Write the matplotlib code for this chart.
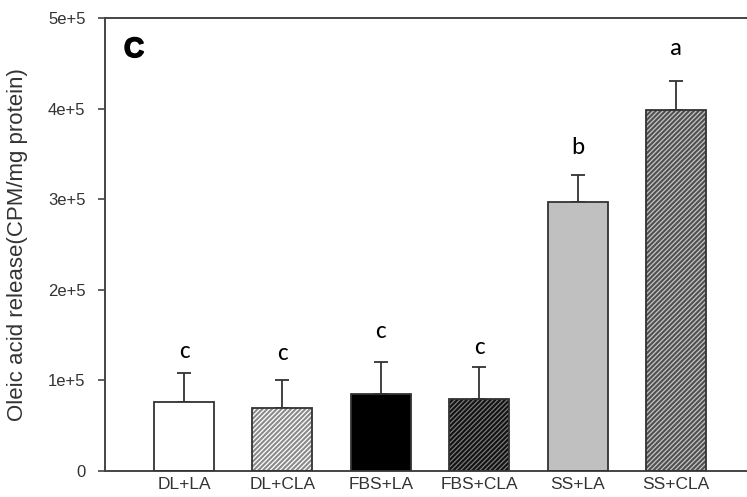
import numpy as np
import matplotlib.pyplot as plt
import matplotlib.patheffects as pe

# Data
groups = ["DL+LA", "DL+CLA", "FBS+LA", "FBS+CLA", "SS+LA", "SS+CLA"]
means = [76000, 69000, 85000, 79000, 297000, 398000]
errs = [32000, 31000, 35000, 36000, 30000, 32000]
letters = ["c", "c", "c", "c", "b", "a"]
letter_y = [132000, 130000, 154000, 136000, 357000, 466000]

faces = ["white", "white", "black", "#7a7a7a", "#c0c0c0", "#c4c4c4"]
hatches = [None, "///////", None, "///////", None, "///////"]
hatch_cols = ["#333333", "#8a8a8a", "#333333", "#111111", "#333333", "#505050"]

plt.rcParams['font.family'] = ['Liberation Sans', 'DejaVu Sans']
plt.rcParams['hatch.linewidth'] = 1.5

fig = plt.figure(figsize=(7.47, 4.97), dpi=100)
ax = fig.add_axes([0.1406, 0.0523, 0.8594, 0.9115])

x = np.arange(len(groups))
for i in range(len(groups)):
    ax.bar(x[i], means[i], width=0.61, color=faces[i], edgecolor=hatch_cols[i],
           hatch=hatches[i], linewidth=0, zorder=2)
    ax.bar(x[i], means[i], width=0.61, color="none", edgecolor="#333333",
           linewidth=1.3, zorder=3)
    ax.errorbar(x[i], means[i], yerr=[[0], [errs[i]]], fmt="none",
                ecolor="#333333", elinewidth=1.3, capsize=5, capthick=1.3, zorder=1)
    ax.text(x[i], letter_y[i], letters[i], ha="center", va="center",
            fontsize=18, family=["Carlito", "Liberation Sans", "DejaVu Sans"])

ax.set_xlim(-0.803, 5.72)
ax.set_ylim(0, 500000)
ax.set_yticks([0, 100000, 200000, 300000, 400000, 500000])
ax.set_yticklabels(["0", "1e+5", "2e+5", "3e+5", "4e+5", "5e+5"], color="#333333", fontsize=12)
ax.set_xticks(x)
ax.set_xticklabels(groups, color="#333333", fontsize=12.5)
ax.tick_params(axis="x", length=0, pad=4)
ax.tick_params(axis="y", length=5, width=1.2, color="#444444", pad=9)

ax.spines["right"].set_visible(False)
for s in ["left", "top", "bottom"]:
    ax.spines[s].set_color("#444444")
    ax.spines[s].set_linewidth(1.4)

ax.set_ylabel("Oleic acid release(CPM/mg protein)", fontsize=16, color="#333333")
ax.yaxis.set_label_coords(-0.12, 0.5)
# panel letter, thickened with a stroke so it reads bold
fig.text(134 / 747, 1 - 50 / 497, "C", fontsize=20, fontweight="bold",
         ha="center", va="center",
         path_effects=[pe.withStroke(linewidth=1.2, foreground="black")])

fig.savefig("out.png", dpi=100)
